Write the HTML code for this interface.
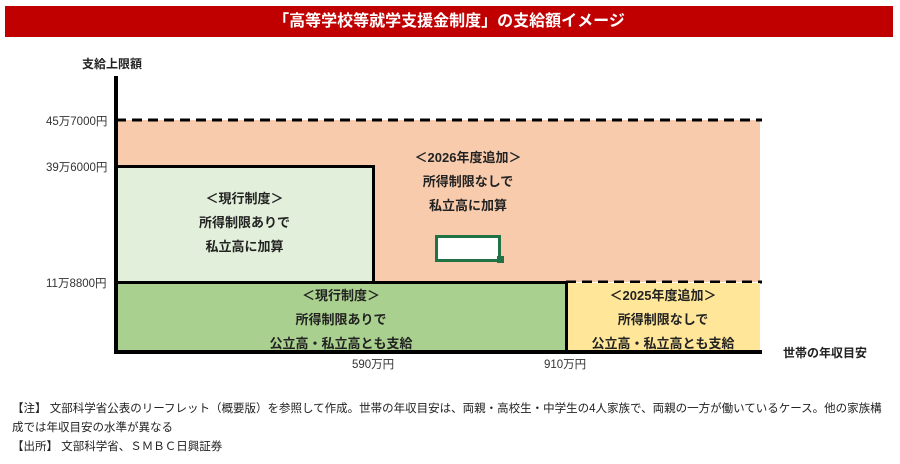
<!DOCTYPE html>
<html><head><meta charset="utf-8"><style>
body{margin:0;width:900px;height:464px;background:#fff;font-family:"Liberation Sans","Noto Sans CJK JP",sans-serif;position:relative;overflow:hidden}
div{position:absolute}
.t{font-weight:bold;font-size:13px;color:#222;text-align:center;line-height:24px}
.l{font-size:11.5px;color:#333}
</style></head><body>
<div style="left:5px;top:6px;width:888px;height:31px;background:#c00000;color:#fff;font-weight:bold;font-size:16px;text-align:center;line-height:31px">「高等学校等就学支援金制度」の支給額イメージ</div>
<div style="left:82px;top:55px;font-weight:bold;font-size:12px;color:#222">支給上限額</div>
<div style="left:116px;top:120px;width:644px;height:162px;background:#f8cbad"></div>
<svg style="position:absolute;left:0;top:0" width="900" height="464">
<line x1="116" y1="120" x2="762" y2="120" stroke="#000" stroke-width="3" stroke-dasharray="10,6"/>
<line x1="566" y1="282" x2="762" y2="282" stroke="#000" stroke-width="3" stroke-dasharray="10,6"/>
</svg>
<div style="left:116px;top:165px;height:117px;background:#e2efda;border-top:3px solid #000;border-right:3px solid #000;box-sizing:border-box;width:259px"></div>
<div style="left:116px;top:281px;height:70px;background:#a9d08e;border-top:3px solid #000;border-right:3px solid #000;box-sizing:border-box;width:452px"></div>
<div style="left:568px;top:283px;width:192px;height:68px;background:#ffe699"></div>
<div style="left:114px;top:76px;width:4px;height:278px;background:#000"></div>
<div style="left:114px;top:350px;width:648px;height:4px;background:#000"></div>
<div style="left:435px;top:235px;width:60px;height:21px;border:3px solid #217346;background:#fff"></div>
<div style="left:497px;top:256px;width:7px;height:7px;background:#217346"></div>
<div class="l" style="left:46px;top:113px">45万7000円</div>
<div class="l" style="left:46px;top:159px">39万6000円</div>
<div class="l" style="left:46px;top:275px">11万8800円</div>
<div class="l" style="left:352px;top:356px">590万円</div>
<div class="l" style="left:544px;top:356px">910万円</div>
<div style="left:783px;top:344px;font-weight:bold;font-size:12px;color:#222">世帯の年収目安</div>
<div class="t" style="left:373px;top:146px;width:190px">＜2026年度追加＞<br>所得制限なしで<br>私立高に加算</div>
<div class="t" style="left:116px;top:187px;width:257px">＜現行制度＞<br>所得制限ありで<br>私立高に加算</div>
<div class="t" style="left:116px;top:284px;width:450px">＜現行制度＞<br>所得制限ありで<br>公立高・私立高とも支給</div>
<div class="t" style="left:566px;top:284px;width:194px">＜2025年度追加＞<br>所得制限なしで<br>公立高・私立高とも支給</div>
<div style="left:12px;top:400px;font-size:11.5px;color:#222;line-height:19px;width:885px;white-space:nowrap">【注】 文部科学省公表のリーフレット（概要版）を参照して作成。世帯の年収目安は、両親・高校生・中学生の4人家族で、両親の一方が働いているケース。他の家族構<br>成では年収目安の水準が異なる<br>【出所】 文部科学省、ＳＭＢＣ日興証券</div>
</body></html>
